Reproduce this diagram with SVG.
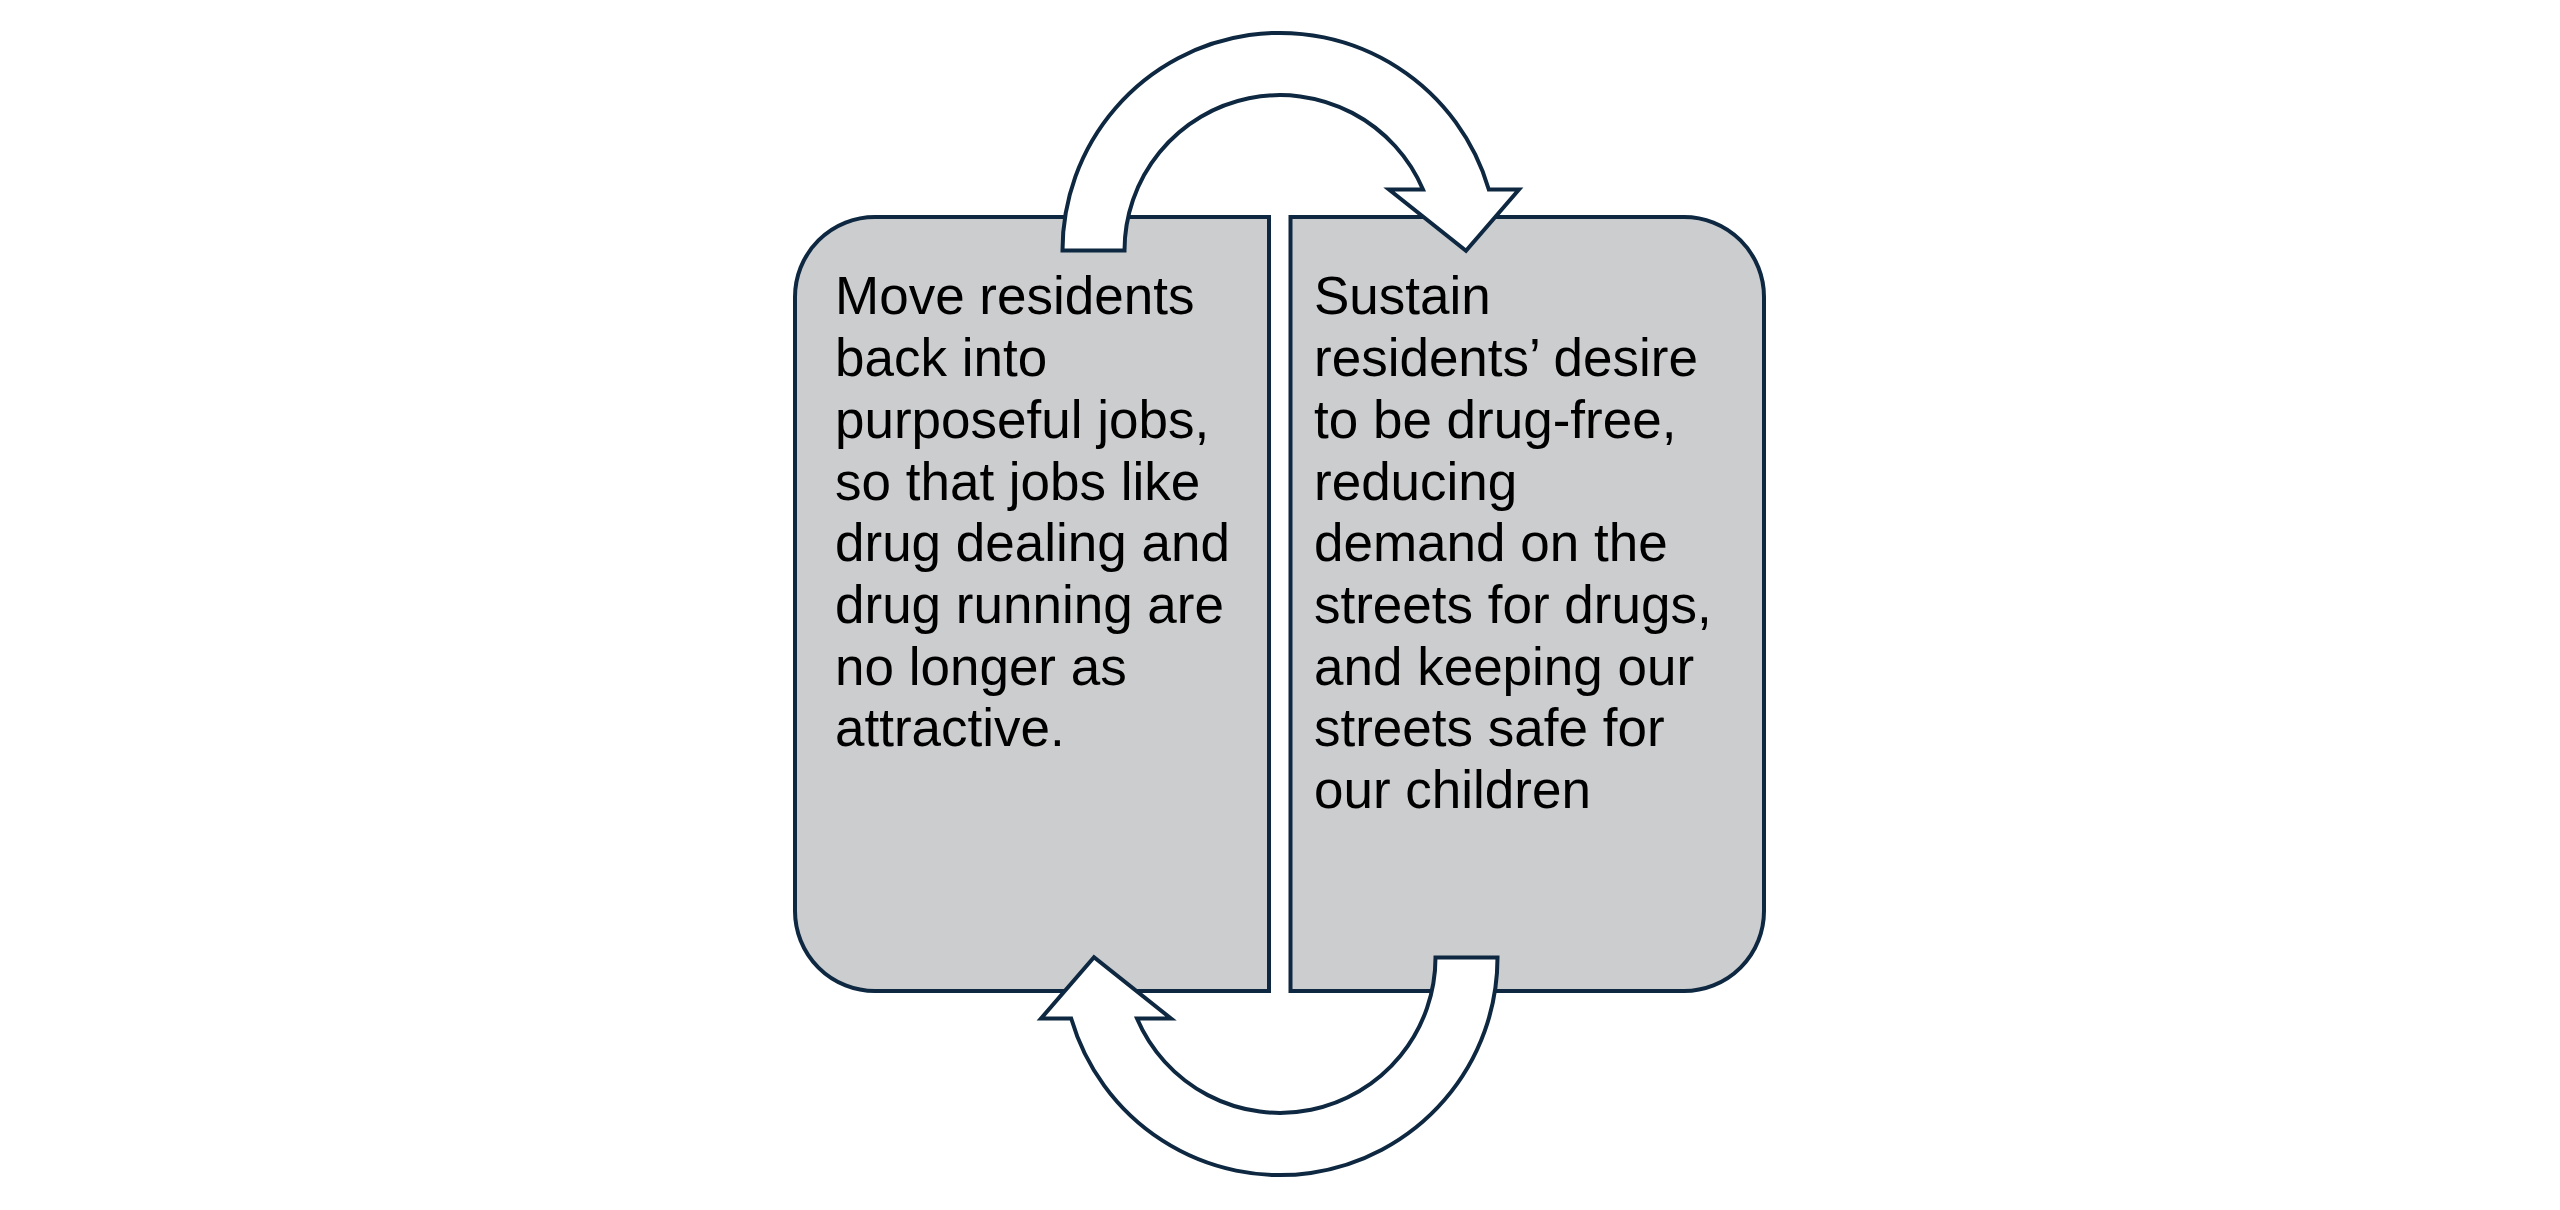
<svg xmlns="http://www.w3.org/2000/svg" width="2560" height="1210" viewBox="0 0 2560 1210">
<style>
.box{fill:#CBCDCF;stroke:#0E2841;stroke-width:4}
.arrow{fill:#FFFFFF;stroke:#0E2841;stroke-width:4;stroke-linejoin:miter}
.label{font-family:"Liberation Sans",Arial,sans-serif;font-size:53px;fill:#000000}
</style>
<rect x="0" y="0" width="2560" height="1210" fill="#FFFFFF"/>
<g id="node-left">
<path class="box" d="M 1269 217 H 875 A 80 80 0 0 0 795 297 V 911 A 80 80 0 0 0 875 991 H 1269 Z"/>
<text class="label" x="835" y="314">Move residents</text>
<text class="label" x="835" y="376">back into</text>
<text class="label" x="835" y="438">purposeful jobs,</text>
<text class="label" x="835" y="500">so that jobs like</text>
<text class="label" x="835" y="561">drug dealing and</text>
<text class="label" x="835" y="623">drug running are</text>
<text class="label" x="835" y="685">no longer as</text>
<text class="label" x="835" y="746">attractive.</text>
</g>
<g id="node-right">
<path class="box" d="M 1290.5 217 H 1684 A 80 80 0 0 1 1764 297 V 911 A 80 80 0 0 1 1684 991 H 1290.5 Z"/>
<text class="label" x="1314" y="314">Sustain</text>
<text class="label" x="1314" y="376">residents’ desire</text>
<text class="label" x="1314" y="438">to be drug-free,</text>
<text class="label" x="1314" y="500">reducing</text>
<text class="label" x="1314" y="561">demand on the</text>
<text class="label" x="1314" y="623">streets for drugs,</text>
<text class="label" x="1314" y="685">and keeping our</text>
<text class="label" x="1314" y="746">streets safe for</text>
<text class="label" x="1314" y="808">our children</text>
</g>
<g id="connectors">
<path id="arrow-top" class="arrow" d="M 1062.5 250.5 A 217.5 217.5 0 0 1 1488.8 189.5 L 1519 189.5 L 1466 250.7 L 1389 189.5 L 1423 189.5 A 155.5 155.5 0 0 0 1124.5 250.5 Z"/>
<path id="arrow-bottom" class="arrow" transform="rotate(180 1280 604)" d="M 1062.5 250.5 A 217.5 217.5 0 0 1 1488.8 189.5 L 1519 189.5 L 1466 250.7 L 1389 189.5 L 1423 189.5 A 155.5 155.5 0 0 0 1124.5 250.5 Z"/>
</g>
</svg>
